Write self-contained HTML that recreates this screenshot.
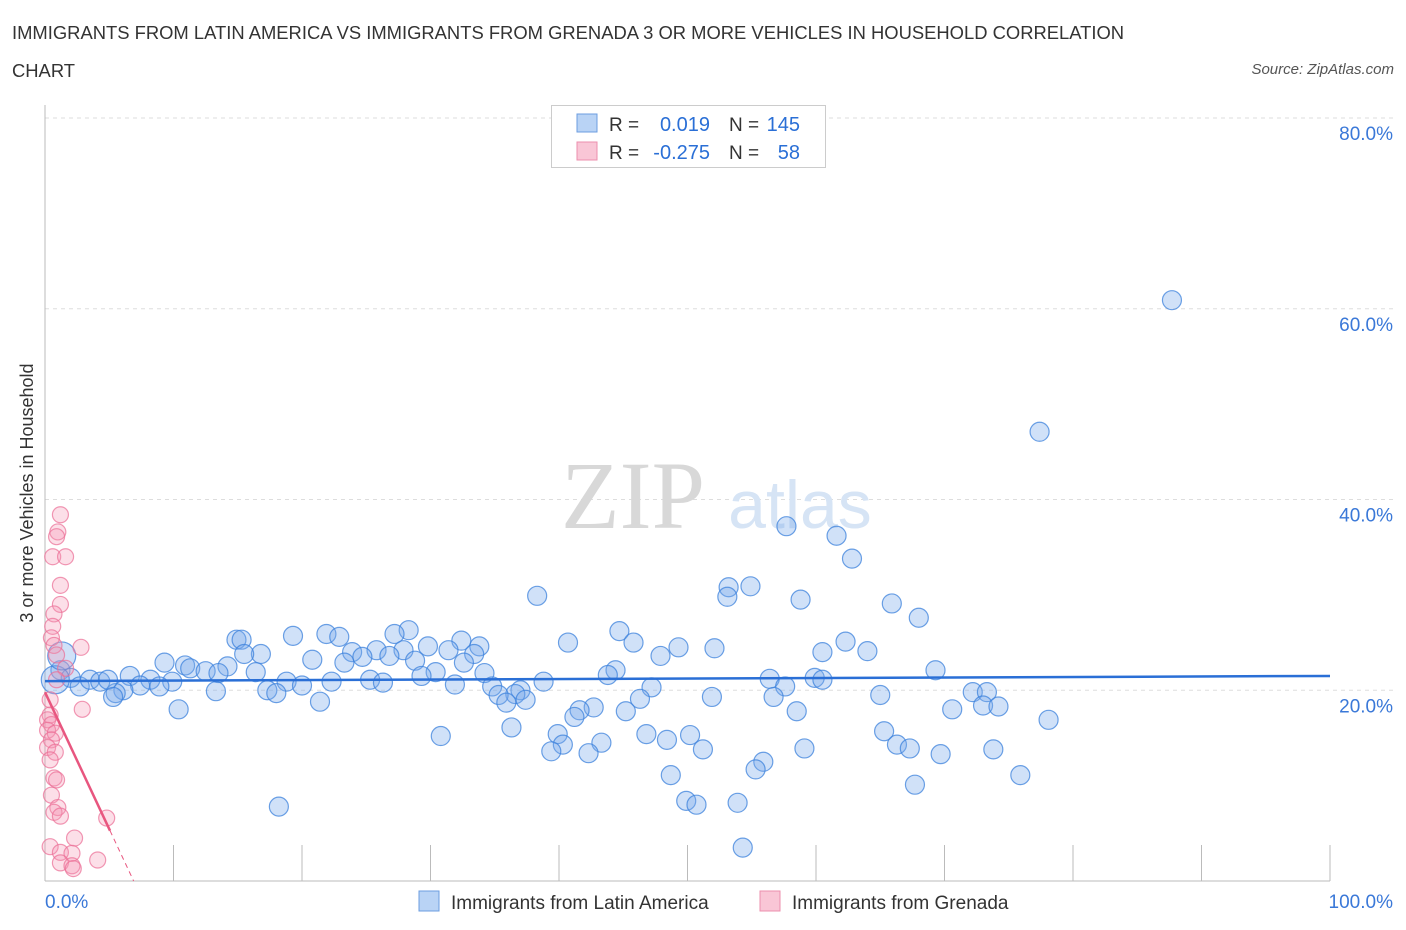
<!DOCTYPE html>
<html><head><meta charset="utf-8"><style>
body{margin:0;background:#fff;font-family:"Liberation Sans",sans-serif;}
#wrap{position:relative;width:1406px;height:930px;overflow:hidden;}
.t{position:absolute;}
</style></head><body>
<div id="wrap">
<div class="t" style="left:12px;top:14px;font-size:18.4px;color:#333;line-height:38px;width:1150px">IMMIGRANTS FROM LATIN AMERICA VS IMMIGRANTS FROM GRENADA 3 OR MORE VEHICLES IN HOUSEHOLD CORRELATION CHART</div>
<div class="t" style="right:12px;top:61px;font-size:15px;color:#555;font-style:italic">Source: ZipAtlas.com</div>
<svg id="svg" width="1406" height="930" style="position:absolute;left:0;top:0"></svg>
</div>
<script>
const blueX=[87.7,77.4,57.7,61.6,62.8,38.3,53.2,54.9,53.1,58.8,65.9,68.0,44.7,28.3,27.2,21.9,22.9,19.3,14.9,15.3,32.4,40.7,45.8,33.8,62.3,29.8,49.3,52.1,64.0,31.4,25.8,27.9,16.8,15.5,23.9,33.4,26.8,60.5,47.9,24.7,20.8,23.3,32.6,28.8,9.3,10.9,14.2,11.3,12.5,34.2,30.4,44.4,69.3,16.4,13.5,43.8,29.3,6.6,56.4,59.9,60.5,25.3,26.3,22.3,18.8,20.0,31.9,38.8,8.2,9.9,7.4,8.9,34.8,47.2,57.6,17.3,18.0,37.0,36.6,35.3,6.1,5.5,13.3,72.2,73.3,65.0,51.9,56.7,46.3,37.4,35.9,21.4,42.7,73.0,74.2,41.6,70.6,58.5,45.2,10.4,41.2,78.1,36.3,39.9,46.8,50.2,65.3,30.8,48.4,40.3,43.3,66.3,51.2,67.3,59.1,73.8,39.4,42.3,69.7,55.9,55.3,48.7,75.9,67.7,49.9,50.7,53.9,18.2,54.3,1.2,2.0,2.7,3.5,4.3,4.9,0.8,5.3,1.3];
const blueY=[60.9,47.1,37.2,36.2,33.8,29.9,30.8,30.9,29.8,29.5,29.1,27.6,26.2,26.3,25.9,25.9,25.6,25.7,25.3,25.3,25.2,25.0,25.0,24.6,25.1,24.6,24.5,24.4,24.1,24.2,24.2,24.2,23.8,23.8,24.0,23.8,23.6,24.0,23.6,23.5,23.2,22.9,22.9,23.1,22.9,22.6,22.5,22.3,22.0,21.8,21.9,22.1,22.1,21.9,21.8,21.6,21.5,21.5,21.2,21.3,21.1,21.1,20.8,20.9,20.9,20.5,20.6,20.9,21.1,20.9,20.5,20.4,20.4,20.3,20.4,20.0,19.7,20.0,19.6,19.5,20.0,19.7,19.9,19.8,19.8,19.5,19.3,19.3,19.1,19.0,18.7,18.8,18.2,18.4,18.3,17.9,18.0,17.8,17.8,18.0,17.2,16.9,16.1,15.4,15.4,15.3,15.7,15.2,14.8,14.3,14.5,14.3,13.8,13.9,13.9,13.8,13.6,13.4,13.3,12.5,11.7,11.1,11.1,10.1,8.4,8.0,8.2,7.8,3.5,22.1,21.3,20.4,21.1,20.9,21.1,21.1,19.3,23.6];
const blueBig=[135,137,141];
const pinkX=[1.2,1.0,0.9,0.6,1.6,1.2,1.2,0.7,0.6,0.5,2.8,0.7,0.9,1.6,0.9,2.9,0.4,0.4,0.2,0.5,0.2,0.8,0.5,0.2,0.8,0.4,0.7,0.9,0.5,1.0,0.7,1.2,4.8,0.4,2.3,1.2,2.1,1.2,2.1,4.1,2.2];
const pinkY=[38.4,36.6,36.1,34.0,34.0,31.0,29.0,28.0,26.7,25.5,24.5,24.7,23.7,22.3,21.1,18.0,19.0,17.4,16.9,16.4,15.8,15.5,14.8,14.0,13.5,12.7,10.8,10.6,9.0,7.7,7.2,6.8,6.6,3.6,4.5,3.0,2.9,1.9,1.6,2.2,1.3];
const blueTrend=[20.96,21.5];
const pinkTrend=[19.8,-2.87];
const yTicks=[20,40,60,80];
const xTickLabels=["0.0%","100.0%"];

const NS="http://www.w3.org/2000/svg";
const svg=document.getElementById('svg');
const X=v=>45+v*12.85, Y=v=>881-v*9.5375;
function mk(t,a,p){const e=document.createElementNS(NS,t);for(const k in a)e.setAttribute(k,a[k]);(p||svg).appendChild(e);return e;}
yTicks.forEach(v=>{
 const g=mk('line',{x1:45,x2:1395,y1:Y(v),y2:Y(v),stroke:'#ddd','stroke-dasharray':'4,4'});
 
 
 const t=mk('text',{x:1393,y:Y(v)+22,'text-anchor':'end','font-size':19,fill:'#3a78d8'});
 t.textContent=v.toFixed(1)+'%';
 
 
});
const ax=mk('line',{x1:45,x2:45,y1:105,y2:881,stroke:'#bbb'});


const xa=mk('line',{x1:45,x2:1330,y1:881,y2:881,stroke:'#bbb'});


for(let i=0;i<=10;i++){const tk=mk('line',{x1:X(i*10),x2:X(i*10),y1:845,y2:881,stroke:'#bbb'});
 
 }
[[0,'start',45],[100,'end',1393]].forEach((d,i)=>{const t=mk('text',{x:d[2],y:908,'text-anchor':d[1],'font-size':19,fill:'#3a78d8'});t.textContent=xTickLabels[i];
 
 });
const w=mk('text',{x:633,y:528,'text-anchor':'middle','font-size':96,'font-family':'Liberation Serif',fill:'#d8d8d8'});w.textContent='ZIP';


const w2=mk('text',{x:800,y:528,'text-anchor':'middle','font-size':68,fill:'#d6e4f5'});w2.textContent='atlas';


blueX.forEach((x,i)=>{const c=mk('circle',{cx:X(x),cy:Y(blueY[i]),r:blueBig.includes(i)?14:9.5,fill:'rgba(120,170,235,0.35)',stroke:'rgba(60,130,220,0.75)','stroke-width':1.2});
 
 });
pinkX.forEach((x,i)=>{const c=mk('circle',{cx:X(x),cy:Y(pinkY[i]),r:8,fill:'rgba(245,150,180,0.3)',stroke:'rgba(235,110,150,0.7)','stroke-width':1.2});
 
 });
const bt=mk('line',{x1:X(0),y1:Y(blueTrend[0]),x2:X(100),y2:Y(blueTrend[1]),stroke:'#2a6fd6','stroke-width':2.5});


const pe=5.06, pz=-pinkTrend[0]/pinkTrend[1];
const pt=mk('line',{x1:X(0),y1:Y(pinkTrend[0]),x2:X(pe),y2:Y(pinkTrend[0]+pinkTrend[1]*pe),stroke:'#e8567f','stroke-width':2.5});


const pd=mk('line',{x1:X(pe),y1:Y(pinkTrend[0]+pinkTrend[1]*pe),x2:X(pz),y2:Y(0),stroke:'#e8567f','stroke-width':1,'stroke-dasharray':'5,4'});


const yt=mk('text',{x:0,y:0,transform:'translate(33,493) rotate(-90)','text-anchor':'middle','font-size':18,fill:'#333'});yt.textContent='3 or more Vehicles in Household';


const lg=mk('g',{});


mk('rect',{x:551.5,y:105.5,width:274,height:62,fill:'#fff',stroke:'#ccc'},lg);
mk('rect',{x:577,y:114,width:20,height:18,fill:'#b9d3f5',stroke:'#6c9ee0'},lg);
mk('rect',{x:577,y:142,width:20,height:18,fill:'#f9c6d6',stroke:'#ec8fae'},lg);
[[131,'0.019','145'],[159,'-0.275','58']].forEach(r=>{
 const a=mk('text',{x:609,y:r[0],'font-size':19,fill:'#333'},lg);a.textContent='R = ';
 const b=mk('text',{x:710,y:r[0],'font-size':20,fill:'#2a6fd6','text-anchor':'end'},lg);b.textContent=r[1];
 const c=mk('text',{x:729,y:r[0],'font-size':19,fill:'#333'},lg);c.textContent='N = ';
 const d=mk('text',{x:800,y:r[0],'font-size':20,fill:'#2a6fd6','text-anchor':'end'},lg);d.textContent=r[2];
});
const bl=mk('g',{});


mk('rect',{x:419,y:891,width:20,height:20,fill:'#b9d3f5',stroke:'#6c9ee0'},bl);
const l1=mk('text',{x:451,y:909,'font-size':19,fill:'#333'},bl);l1.textContent='Immigrants from Latin America';


mk('rect',{x:760,y:891,width:20,height:20,fill:'#f9c6d6',stroke:'#ec8fae'},bl);
const l2=mk('text',{x:792,y:909,'font-size':19,fill:'#333'},bl);l2.textContent='Immigrants from Grenada';


</script>
</body></html>
